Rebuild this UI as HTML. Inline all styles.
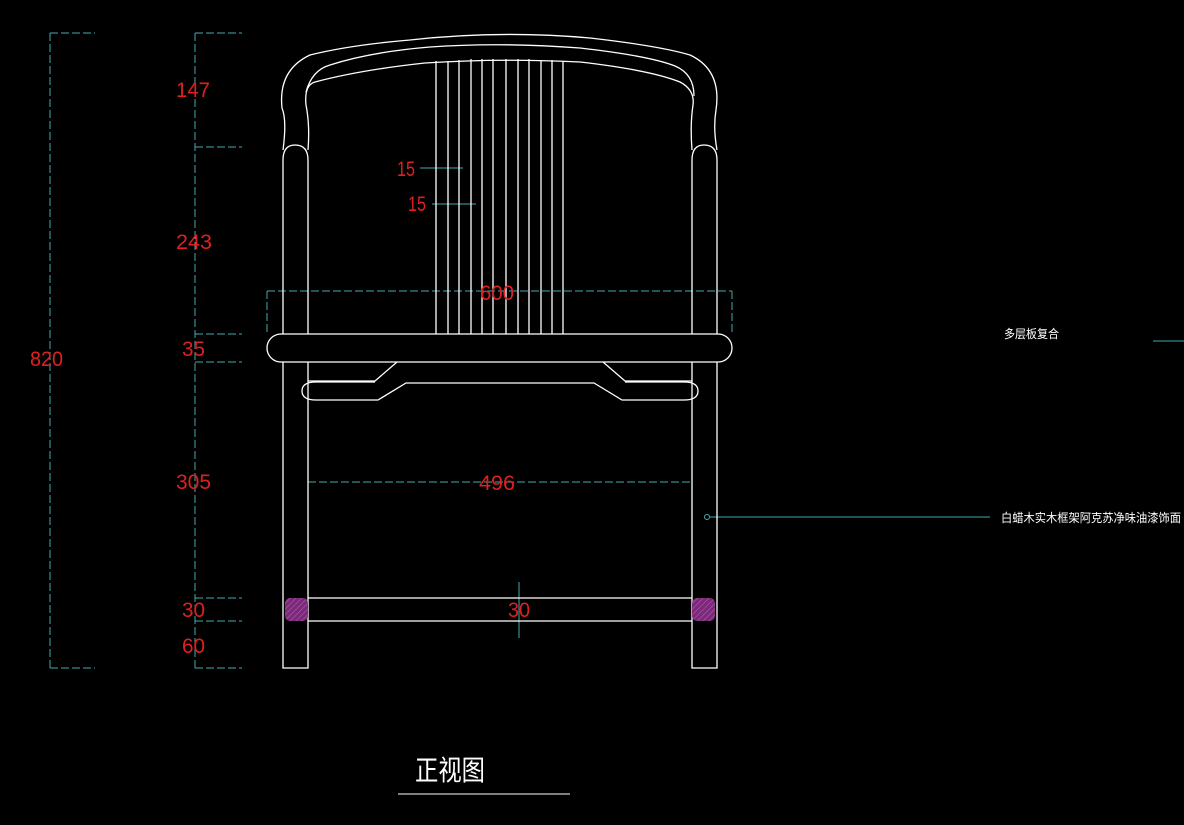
<!DOCTYPE html>
<html><head><meta charset="utf-8"><style>
html,body{margin:0;padding:0;background:#000;}
svg{display:block}
text{font-family:"Liberation Sans","Noto Sans CJK SC",sans-serif;}
</style></head><body>
<svg width="1184" height="825" viewBox="0 0 1184 825" xmlns="http://www.w3.org/2000/svg">
<defs>
<pattern id="h" width="4" height="4" patternUnits="userSpaceOnUse" patternTransform="rotate(45)">
<rect width="4" height="4" fill="#7a2a78"/><line x1="0" y1="0" x2="0" y2="4" stroke="#c060c0" stroke-width="1"/>
</pattern>
</defs>
<g fill="none" stroke="#4aa" stroke-width="1" stroke-dasharray="8,3">
<line x1="50" y1="33" x2="50" y2="668"/>
<line x1="50" y1="33" x2="95" y2="33"/><line x1="50" y1="668" x2="95" y2="668"/>
<line x1="195" y1="33" x2="195" y2="668"/>
<line x1="195" y1="33" x2="242" y2="33"/><line x1="195" y1="147" x2="242" y2="147"/>
<line x1="195" y1="334" x2="242" y2="334"/><line x1="195" y1="362" x2="242" y2="362"/>
<line x1="195" y1="598" x2="242" y2="598"/><line x1="195" y1="621" x2="242" y2="621"/>
<line x1="195" y1="668" x2="242" y2="668"/>
<line x1="267" y1="291" x2="732" y2="291"/><line x1="267" y1="291" x2="267" y2="334"/><line x1="732" y1="291" x2="732" y2="334"/>
<line x1="308" y1="482" x2="692" y2="482"/><line x1="308" y1="482" x2="308" y2="510"/><line x1="692" y1="482" x2="692" y2="498"/>
</g>
<g stroke="#4aa" stroke-width="1" fill="none">
<line x1="420" y1="168" x2="463" y2="168"/><line x1="432" y1="204" x2="476" y2="204"/>
<line x1="519" y1="582" x2="519" y2="638"/><line x1="507" y1="598" x2="536" y2="598"/><line x1="507" y1="621" x2="536" y2="621"/>
<circle cx="707" cy="517" r="2.5"/><line x1="710" y1="517" x2="990" y2="517"/>
<line x1="1153" y1="341" x2="1184" y2="341"/>
</g>
<g fill="none" stroke="#fff" stroke-width="1.3">
<path d="M283 160 Q283 145 295 145 Q308 145 308 160 L308 668 L283 668 Z"/>
<path d="M692 160 Q692 145 704 145 Q717 145 717 160 L717 668 L692 668 Z"/>
<path d="M283 150 Q287 120 282 108 Q278 70 310 55 Q350 45 410 40 Q500 30 590 38 Q660 46 690 55 Q722 70 716 110 Q713 128 717 150"/>
<path d="M308 150 Q310 125 306 105 Q304 85 315 82 Q360 70 425 63 Q500 58 580 62 Q650 70 680 82 Q695 90 693 105 Q690 125 692 150"/>
<path d="M306 92 Q312 70 330 65 Q370 52 430 47 Q500 42 580 48 Q650 56 675 66 Q694 74 694 96"/>
<g>
<line x1="436" y1="61" x2="436" y2="334"/><line x1="448" y1="61" x2="448" y2="334"/>
<line x1="459" y1="60" x2="459" y2="334"/><line x1="471" y1="59" x2="471" y2="334"/>
<line x1="482" y1="59" x2="482" y2="334"/><line x1="493" y1="59" x2="493" y2="334"/>
<line x1="506" y1="59" x2="506" y2="334"/><line x1="518" y1="59" x2="518" y2="334"/>
<line x1="529" y1="59" x2="529" y2="334"/><line x1="541" y1="60" x2="541" y2="334"/>
<line x1="552" y1="60" x2="552" y2="334"/><line x1="563" y1="61" x2="563" y2="334"/>
</g>
<rect x="267" y="334" width="465" height="28" rx="14" fill="#000"/>
<path d="M308 381 L375 381 L397 362"/><path d="M692 381 L625 381 L603 362"/>
<path d="M316 382 L375 382 M302 391 Q302 382 316 382 M302 391 Q302 400 316 400 L378 400 L406 383 L594 383 L622 400 L684 400 Q698 400 698 391 Q698 382 684 382 L625 382"/>
<line x1="308" y1="598" x2="692" y2="598"/><line x1="308" y1="621" x2="692" y2="621"/>
</g>
<rect x="285" y="598" width="23" height="23" rx="5" fill="url(#h)"/>
<rect x="692" y="598" width="23" height="23" rx="5" fill="url(#h)"/>
<g fill="#e02020" font-size="21" lengthAdjust="spacingAndGlyphs">
<text x="30" y="366" textLength="33" lengthAdjust="spacingAndGlyphs">820</text>
<text x="176" y="97" textLength="34" lengthAdjust="spacingAndGlyphs">147</text>
<text x="176" y="249" textLength="36" lengthAdjust="spacingAndGlyphs">243</text>
<text x="182" y="356" textLength="23" lengthAdjust="spacingAndGlyphs">35</text>
<text x="176" y="489" textLength="35" lengthAdjust="spacingAndGlyphs">305</text>
<text x="182" y="617" textLength="23" lengthAdjust="spacingAndGlyphs">30</text>
<text x="182" y="653" textLength="23" lengthAdjust="spacingAndGlyphs">60</text>
<text x="397" y="176" textLength="18" lengthAdjust="spacingAndGlyphs">15</text>
<text x="408" y="211" textLength="18" lengthAdjust="spacingAndGlyphs">15</text>
<text x="480" y="300" textLength="34" lengthAdjust="spacingAndGlyphs">600</text>
<text x="479" y="490" textLength="36" lengthAdjust="spacingAndGlyphs">496</text>
<text x="508" y="617" textLength="22" lengthAdjust="spacingAndGlyphs">30</text>
</g>
<g fill="#fff" font-size="12">
<text x="1004" y="338" textLength="55" lengthAdjust="spacingAndGlyphs">多层板复合</text>
<text x="1001" y="522" textLength="180" lengthAdjust="spacingAndGlyphs">白蜡木实木框架阿克苏净味油漆饰面</text>
</g>
<text x="415" y="780" fill="#fff" font-size="28" textLength="70" lengthAdjust="spacingAndGlyphs">正视图</text>
<line x1="398" y1="794" x2="570" y2="794" stroke="#fff" stroke-width="1"/>
</svg>
</body></html>
